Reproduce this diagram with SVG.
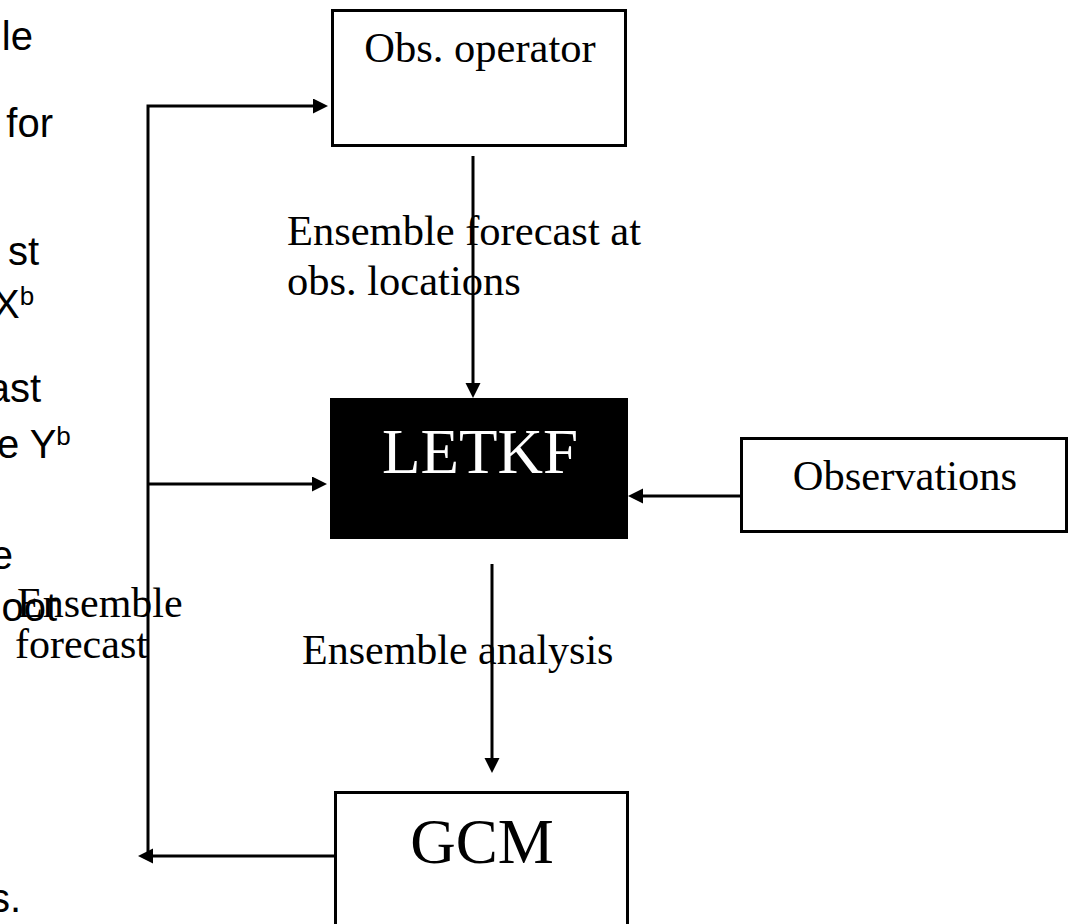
<svg xmlns="http://www.w3.org/2000/svg" width="1076" height="924" viewBox="0 0 1076 924">
<style>
.bg{fill:#fff}
.box{fill:#fff;stroke:#000;stroke-width:3}
.lbl{font-family:"Liberation Serif","Times New Roman",serif;fill:#000}
.side{font-family:"Liberation Sans",Arial,sans-serif;font-size:40px;fill:#000}
.con{fill:none;stroke:#000;stroke-width:3;stroke-linejoin:miter}
</style>
<defs>
<marker id="ah" markerUnits="userSpaceOnUse" markerWidth="16" markerHeight="16" refX="10" refY="7.5" orient="auto">
<path d="M0,0 L15,7.5 L0,15 z" fill="#000"/>
</marker>
</defs>
<rect class="bg" x="0" y="0" width="1076" height="924"/>
<g id="background-text">
<text class="side" x="33" y="50" text-anchor="end">le</text>
<text class="side" x="53" y="137" text-anchor="end">for</text>
<text class="side" x="39" y="265" text-anchor="end">st</text>
<text class="side" x="-7" y="318">X<tspan dy="-13" font-size="26">b</tspan></text>
<text class="side" x="41" y="402" text-anchor="end">ast</text>
<text class="side" x="-3" y="458">e Y<tspan dy="-13" font-size="26">b</tspan></text>
<text class="side" x="13" y="569" text-anchor="end">e</text>
<text class="side" x="57" y="621" text-anchor="end">oot</text>
<text class="side" x="21" y="912" text-anchor="end">s.</text>
</g>
<g id="connectors">
<path class="con" d="M148,855 L148,106 L323,106" marker-end="url(#ah)"/>
<path class="con" d="M148,484 L322,484" marker-end="url(#ah)"/>
<path class="con" d="M334,856 L143,856" marker-end="url(#ah)"/>
<path class="con" d="M473,156 L473,393" marker-end="url(#ah)"/>
<path class="con" d="M740,496 L633,496" marker-end="url(#ah)"/>
<path class="con" d="M492,564 L492,768" marker-end="url(#ah)"/>
</g>
<g id="obs-operator">
<rect class="box" x="332.5" y="10.5" width="293" height="135"/>
<text class="lbl" x="480" y="62" font-size="42.5" text-anchor="middle">Obs. operator</text>
</g>
<g id="letkf">
<rect x="330" y="398" width="298" height="141" fill="#000"/>
<text class="lbl" x="480" y="473" font-size="63" text-anchor="middle" style="fill:#fff">LETKF</text>
</g>
<g id="observations">
<rect class="box" x="741.5" y="438.5" width="325" height="93"/>
<text class="lbl" x="905" y="490" font-size="42.5" text-anchor="middle">Observations</text>
</g>
<g id="gcm">
<rect class="box" x="335.5" y="792.5" width="292" height="200"/>
<text class="lbl" x="482" y="863" font-size="63" text-anchor="middle">GCM</text>
</g>
<g id="labels">
<text class="lbl" x="287" y="245" font-size="42.5">Ensemble forecast at</text>
<text class="lbl" x="287" y="295" font-size="42.5">obs. locations</text>
<text class="lbl" x="302" y="664" font-size="42">Ensemble analysis</text>
<text class="lbl" x="17" y="617" font-size="42">Ensemble</text>
<text class="lbl" x="15" y="658" font-size="42">forecast</text>
</g>
</svg>
